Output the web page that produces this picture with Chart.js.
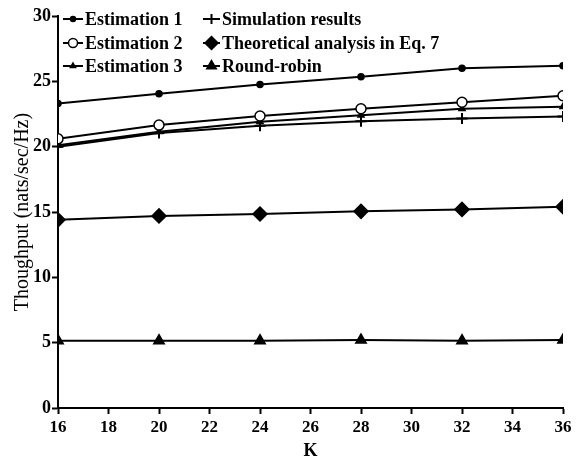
<!DOCTYPE html>
<html>
<head>
<meta charset="utf-8">
<script src="https://cdn.jsdelivr.net/npm/chart.js@4"></script>
<style>
  html, body { margin: 0; padding: 0; background: #fff; }
  #wrap { width: 578px; height: 462px; }
</style>
</head>
<body>
<div id="wrap"><canvas id="myChart" width="578" height="462"></canvas></div>
<script>
/*
*Chart data
*/
const kValues = [16, 20, 24, 28, 32, 36];
const estimation1 = [23.3, 24.05, 24.75, 25.35, 26.0, 26.2];
const estimation2 = [20.6, 21.65, 22.35, 22.9, 23.4, 23.9];
const estimation3 = [20.1, 21.15, 21.9, 22.4, 22.9, 23.05];
const simulation = [20.0, 21.05, 21.6, 21.95, 22.15, 22.3];
const theoretical = [14.4, 14.7, 14.85, 15.05, 15.2, 15.4];
const roundRobin = [5.15, 5.15, 5.15, 5.2, 5.15, 5.2];
const yTicks = [0, 5, 10, 15, 20, 25, 30];
const xTicks = [16, 18, 20, 22, 24, 26, 28, 30, 32, 34, 36];

const BLACK = '#000';
const serif = "'Liberation Serif', 'Times New Roman', serif";

/*
*Build one dataset
*/
function series(label, values, style, radius, fill){
  return {
    label: label,
    data: kValues.map((k, i) => ({x: k, y: values[i]})),
    borderColor: BLACK,
    borderWidth: 2,
    pointStyle: style,
    pointRadius: radius,
    pointBackgroundColor: fill || BLACK,
    pointBorderColor: BLACK,
    pointBorderWidth: style === 'cross' ? 2 : 1.5,
    tension: 0
  };
}

/*
*Legend drawn inside the plot, 2 columns x 3 rows
*/
const insideLegend = {
  id: 'insideLegend',
  afterDraw(chart){
    const ctx = chart.ctx;
    const cols = [{x0: 63, x1: 83}, {x0: 203, x1: 220}];
    const rows = [19, 43, 66];
    ctx.save();
    ctx.font = 'bold 18px ' + serif;
    ctx.textBaseline = 'middle';
    chart.data.datasets.forEach((ds, i) => {
      const col = cols[i < 3 ? 0 : 1];
      const y = rows[i % 3];
      ctx.strokeStyle = BLACK;
      ctx.lineWidth = 2;
      ctx.beginPath();
      ctx.moveTo(col.x0, y);
      ctx.lineTo(col.x1, y);
      ctx.stroke();
      ctx.fillStyle = ds.pointBackgroundColor;
      ctx.lineWidth = ds.pointBorderWidth;
      Chart.helpers.drawPoint(ctx, {pointStyle: ds.pointStyle, radius: ds.pointRadius - 0.5, borderWidth: ds.pointBorderWidth}, (col.x0 + col.x1) / 2, y);
      ctx.fillStyle = BLACK;
      ctx.fillText(ds.label, col.x1 + 2, y + 1);
    });
    ctx.restore();
  }
};

const ctx = document.getElementById('myChart').getContext('2d');
const myChart = new Chart(ctx, {
  type: 'line',
  data: {
    datasets: [
      series('Estimation 1', estimation1, 'circle', 3),
      series('Estimation 2', estimation2, 'circle', 5, '#fff'),
      series('Estimation 3', estimation3, 'triangle', 3.5),
      series('Simulation results', simulation, 'cross', 5.5),
      series('Theoretical analysis in Eq. 7', theoretical, 'rectRot', 7),
      series('Round-robin', roundRobin, 'triangle', 6)
    ]
  },
  options: {
    responsive: false,
    animation: false,
    layout: { padding: { top: 16, right: 15, left: 11, bottom: 0 } },
    plugins: { legend: { display: false }, tooltip: { enabled: false } },
    scales: {
      x: {
        type: 'linear',
        min: 16,
        max: 36,
        afterBuildTicks: s => { s.ticks = xTicks.map(v => ({value: v})); },
        afterFit: s => { s.height = 54; },
        grid: { drawOnChartArea: false, drawTicks: true, tickLength: 6, tickWidth: 2, tickColor: BLACK },
        border: { color: BLACK, width: 2 },
        ticks: { color: BLACK, font: { family: serif, size: 17, weight: 'bold' }, padding: 3, maxRotation: 0 },
        title: { display: true, text: 'K', color: BLACK, font: { family: serif, size: 18, weight: 'bold' }, padding: 0 }
      },
      y: {
        min: 0,
        max: 30,
        afterBuildTicks: s => { s.ticks = yTicks.map(v => ({value: v})); },
        afterFit: s => { s.width = 47; },
        grid: { drawOnChartArea: false, drawTicks: true, tickLength: 6, tickWidth: 2, tickColor: BLACK },
        border: { color: BLACK, width: 2 },
        ticks: { color: BLACK, font: { family: serif, size: 18, weight: 'bold' }, padding: 1 },
        title: { display: true, text: 'Thoughput (nats/sec/Hz)', color: BLACK, font: { family: serif, size: 20 }, padding: 0 }
      }
    }
  },
  plugins: [insideLegend]
});
</script>
</body>
</html>
